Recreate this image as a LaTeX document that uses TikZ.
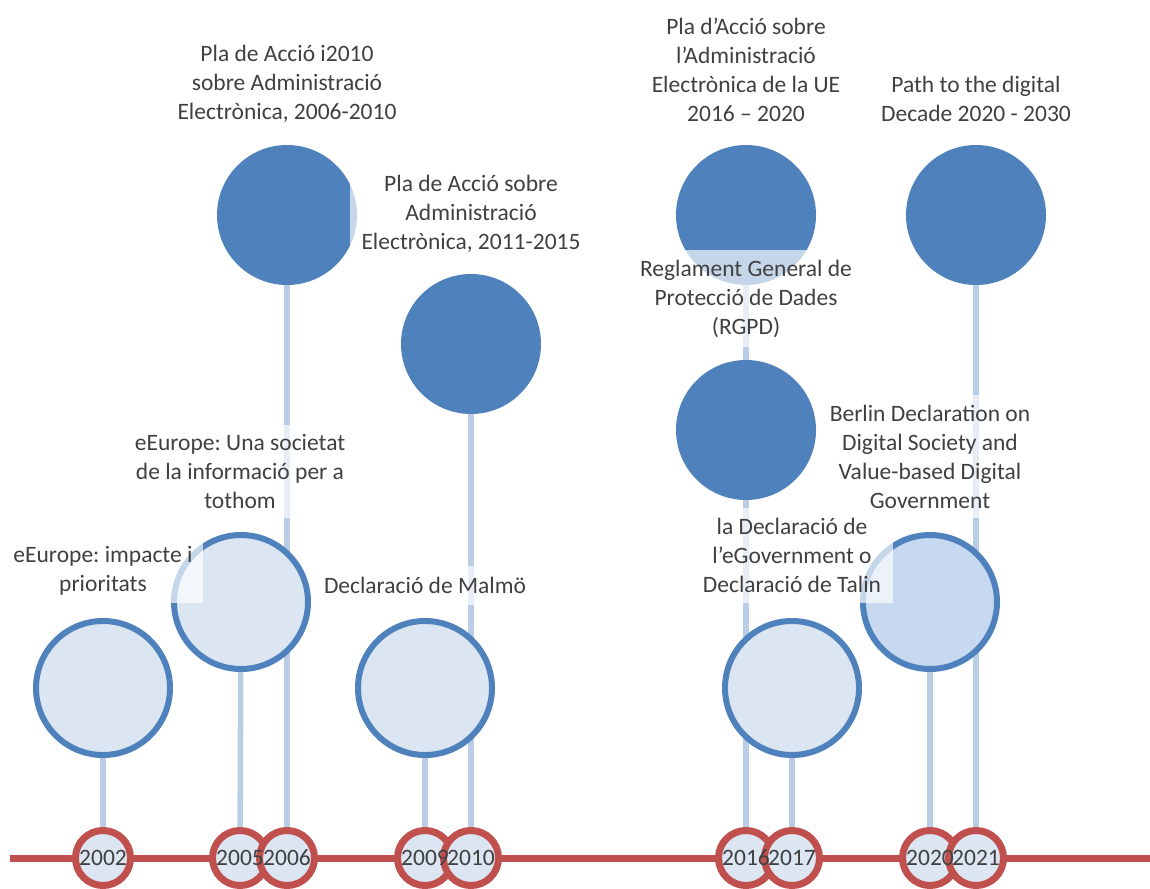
\documentclass[tikz,border=0pt]{standalone}
\usepackage{fontspec}
\setmainfont{Carlito}
\usetikzlibrary{backgrounds}

\definecolor{axisred}{HTML}{C0504D}
\definecolor{evblue}{HTML}{4F81BD}
\definecolor{paleblue}{HTML}{DCE6F2}
\definecolor{midblue}{HTML}{C6D9F1}
\definecolor{stemblue}{HTML}{B9CDE5}
\definecolor{txtgray}{HTML}{404040}

\begin{document}
\frenchspacing
\begin{tikzpicture}[x=1pt,y=-1pt,
  stemline/.style={draw=stemblue, line width=5.5pt},
  axisline/.style={draw=axisred, line width=7pt},
  yearmark/.style={circle, draw=axisred, line width=7pt, fill=paleblue,
    minimum size=55pt, inner sep=0pt},
  yeartext/.style={text=txtgray, inner sep=0pt, font=\fontsize{23.5}{28}\selectfont},
  eventring/.style={circle, draw=evblue, line width=6pt, fill=paleblue,
    minimum size=134pt, inner sep=0pt},
  eventdisc/.style={circle, fill=evblue, minimum size=140pt, inner sep=0pt},
  lbl/.style={fill=white, fill opacity=0.68, text opacity=1, text=txtgray,
    align=center, inner sep=0pt, font=\fontsize{23.5}{29}\selectfont\frenchspacing},
]
\useasboundingbox (0,0) rectangle (1150,888);

% time axis
\coordinate (axL) at (10,858);
\coordinate (axR) at (1150,858);
\draw[axisline] (axL) -- (axR);

% events
\node[eventring] (e2002) at (103,688) {};
\node[eventring] (e2005) at (241,602) {};
\node[eventdisc] (e2006) at (287,215) {};
\node[eventring] (e2009) at (425,688) {};
\node[eventdisc] (e2010) at (471,344) {};
\node[eventdisc] (e2016a) at (746,215) {};
\node[eventdisc] (e2016b) at (746,430) {};
\node[eventring] (e2017) at (792,688) {};
\node[eventring, fill=midblue] (e2020) at (930,602) {};
\node[eventdisc] (e2021) at (976,215) {};

% year markers
\foreach \yr/\px in {2002/103, 2005/240, 2006/287, 2009/425, 2010/471,
                     2016/746, 2017/792, 2020/930, 2021/976}
  \node[yearmark] (y\yr) at (\px,858) {};

% stems behind everything
\begin{scope}[on background layer]
  \draw[stemline] (y2002) -- (e2002);
  \draw[stemline] (y2005) -- (e2005);
  \draw[stemline] (y2006) -- (e2006);
  \draw[stemline] (y2009) -- (e2009);
  \draw[stemline] (y2010) -- (e2010);
  \draw[stemline] (y2016) -- (e2016a);
  \draw[stemline] (y2016) -- (e2016b);
  \draw[stemline] (y2017) -- (e2017);
  \draw[stemline] (y2020) -- (e2020);
  \draw[stemline] (y2021) -- (e2021);
\end{scope}

% event labels
\node[lbl, minimum width=230, minimum height=97] (l2006) at (287,84)
  {Pla de Acció i2010\\sobre Administració\\Electrònica, 2006-2010};
\node[lbl, minimum width=242, minimum height=94] (l2010) at (471,214)
  {Pla de Acció sobre\\Administració\\Electrònica, 2011-2015};
\node[lbl, minimum width=240, minimum height=93] (l2005) at (240,471.5)
  {eEurope: Una societat\\de la informació per a\\tothom};
\node[lbl, minimum width=200, minimum height=65] (l2002) at (103,570.5)
  {eEurope: impacte i\\prioritats};
\node[lbl, minimum width=220, minimum height=39] (l2009) at (425,585.5)
  {Declaració de Malmö};
\node[lbl, minimum width=230, minimum height=123] (l2016a) at (746,69.5)
  {Pla d’Acció sobre\\l’Administració\\Electrònica de la UE\\2016 – 2020};
\node[lbl, minimum width=230, minimum height=65] (l2021) at (976,98.5)
  {Path to the digital\\Decade 2020 - 2030};
\node[lbl, minimum width=240, minimum height=97] (l2016b) at (746,298.5)
  {Reglament General de\\Protecció de Dades\\(RGPD)};
\node[lbl, minimum width=214, minimum height=123] (l2020) at (930,456.5)
  {Berlin Declaration on\\Digital Society and\\Value-based Digital\\Government};
\node[lbl, minimum width=202, minimum height=95] (l2017) at (792,555.5)
  {la Declaració de\\l’eGovernment o\\Declaració de Talin};

% year numbers on top
\foreach \yr in {2002,2005,2006,2009,2010,2016,2017,2020,2021}
  \node[yeartext] (t\yr) at (y\yr) {\yr};
\end{tikzpicture}
\end{document}
